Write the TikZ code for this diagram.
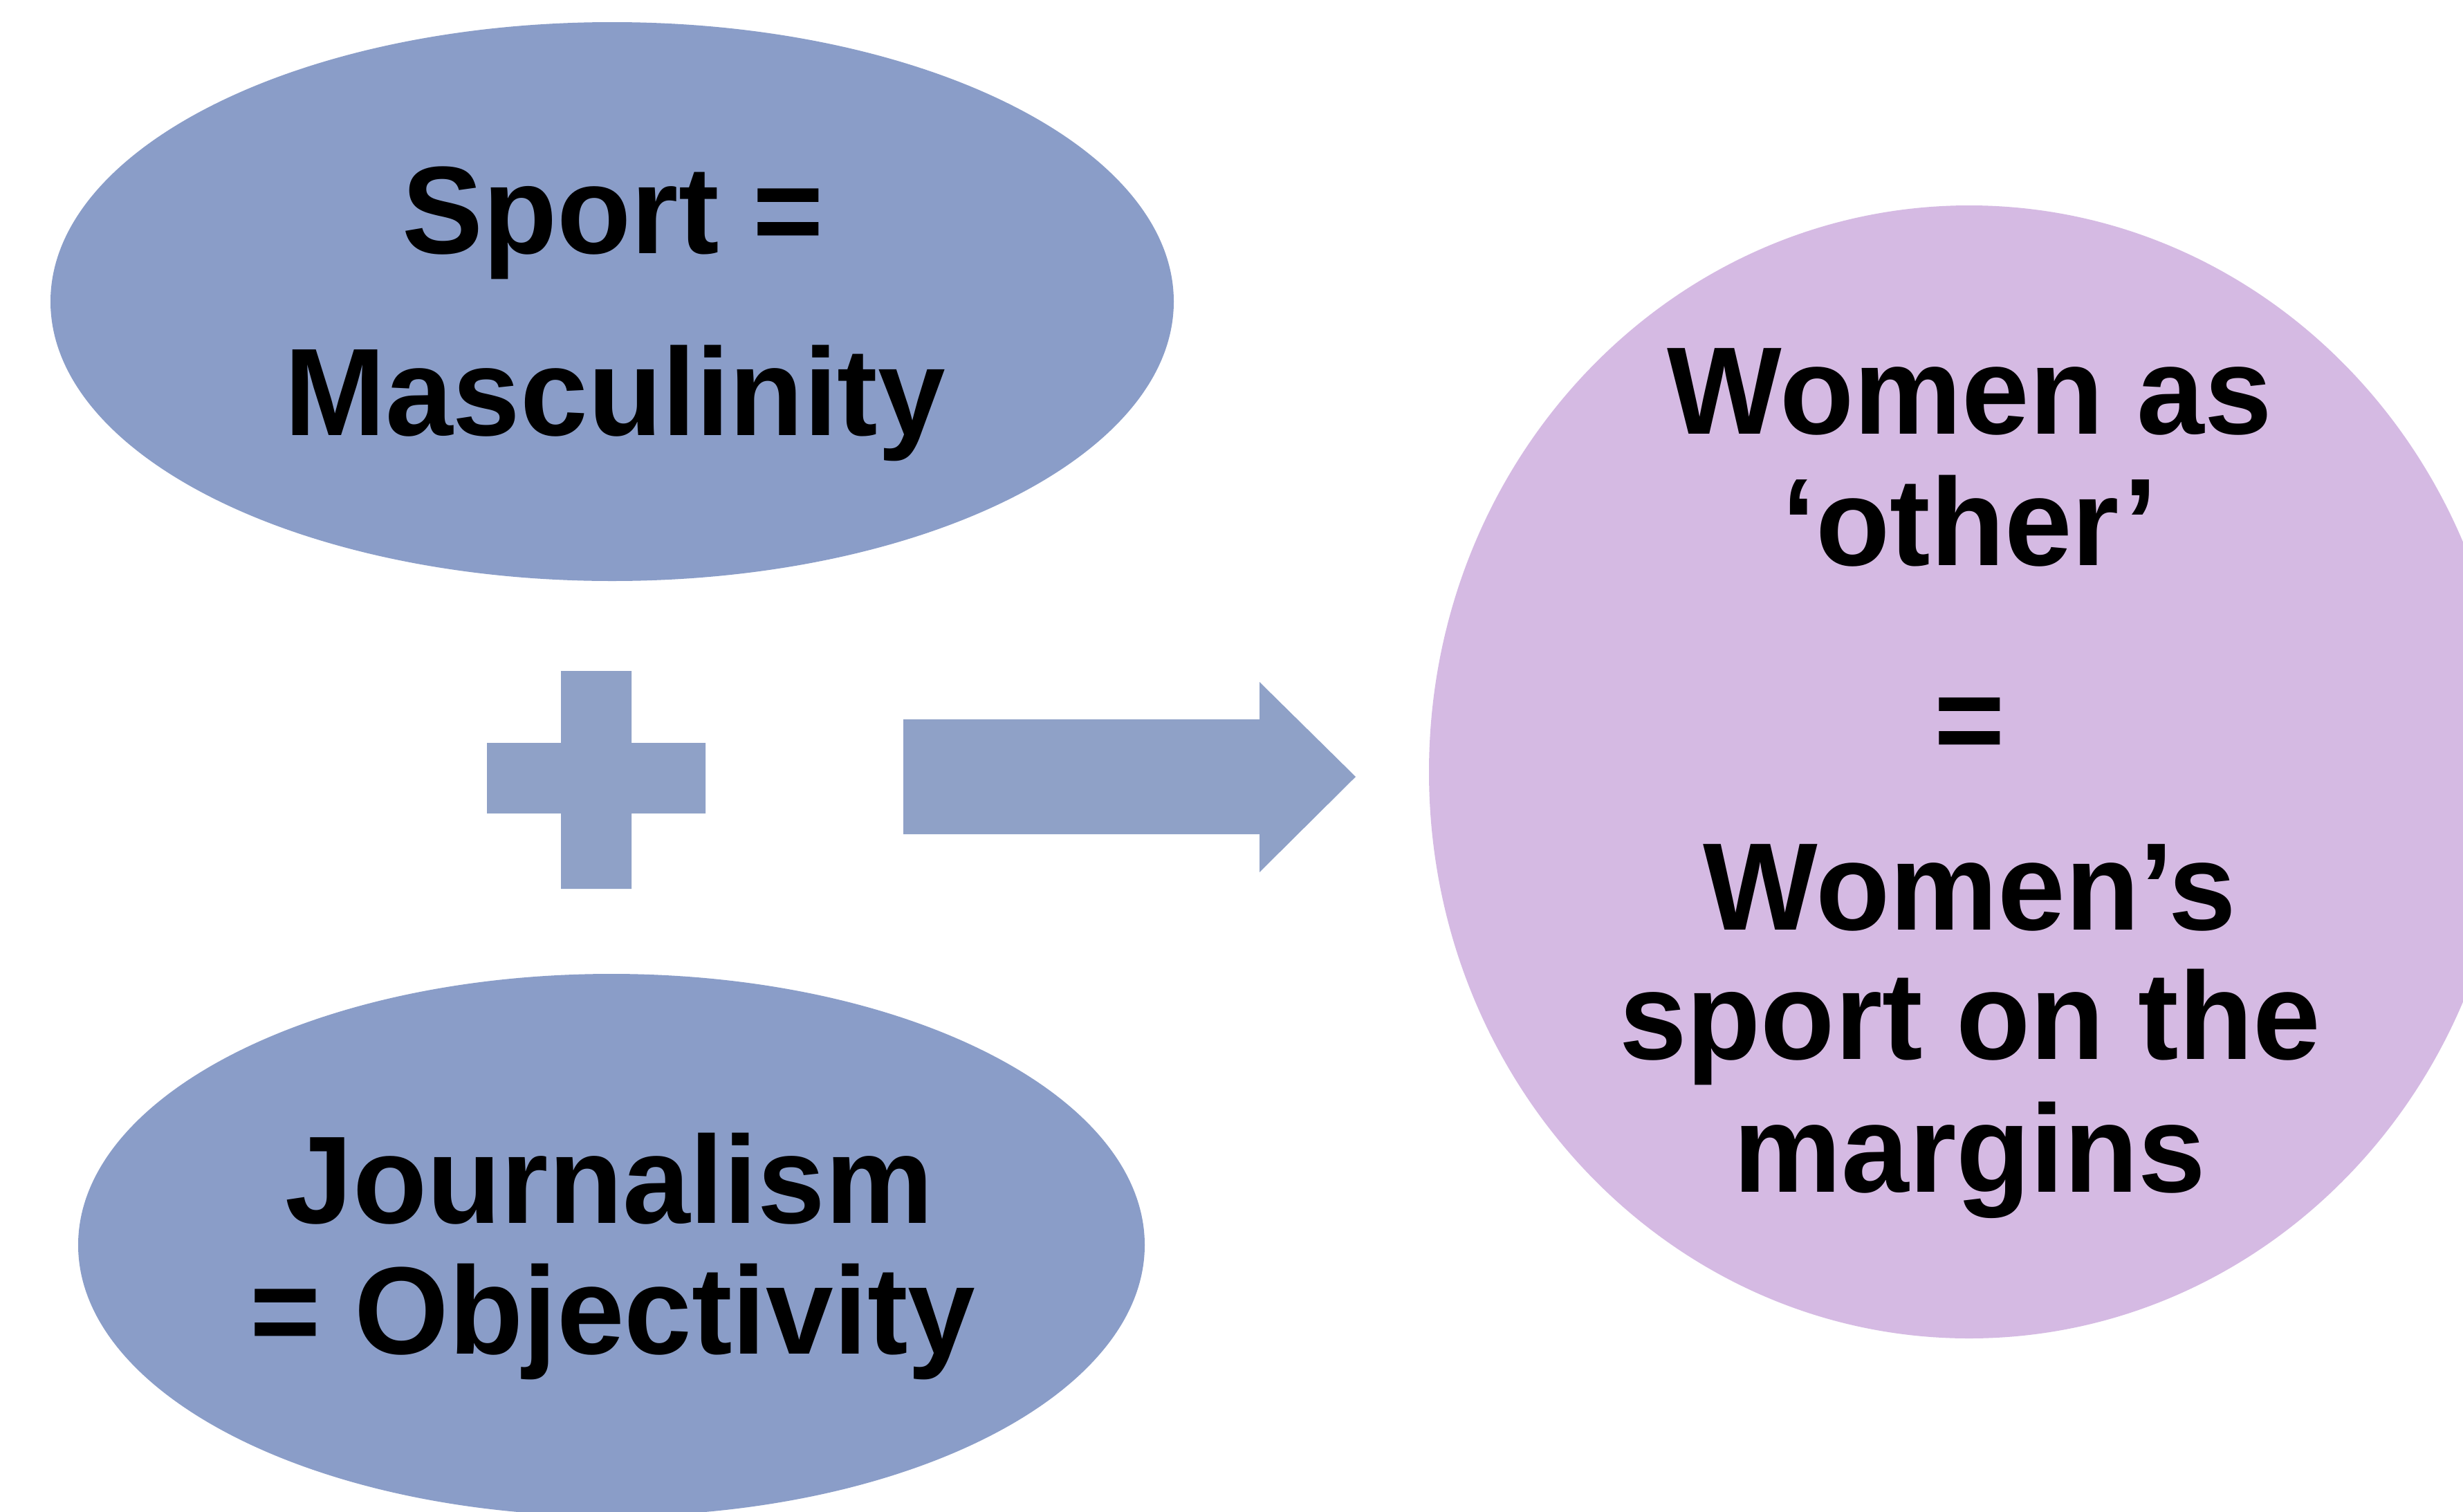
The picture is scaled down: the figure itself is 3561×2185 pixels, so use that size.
\documentclass[tikz,border=0pt]{standalone}
\usepackage{fontspec}
\setmainfont{Liberation Sans}[FakeStretch=0.975]
\usetikzlibrary{shapes.geometric}
\definecolor{blueshape}{RGB}{138,157,200}
\definecolor{arrowblue}{RGB}{143,161,199}
\definecolor{lilac}{RGB}{213,186,227}
\begin{document}
\begin{tikzpicture}[x=1pt,y=-1pt,
  txt/.style={anchor=base, inner sep=0pt, font=\fontsize{180}{200}\selectfont\bfseries},
  oval/.style={ellipse, inner sep=0pt, draw=none}]
\useasboundingbox (0,0) rectangle (3561,2185);
\clip (0,0) rectangle (3561,2185);
\fill[white] (0,0) rectangle (3561,2185);
% shapes
\node[oval, fill=blueshape, minimum width=1624pt, minimum height=808pt] (sport) at (885,436) {};
\node[oval, fill=blueshape, minimum width=1542pt, minimum height=784pt] (journ) at (884,1800) {};
\node[oval, fill=lilac, minimum width=1562pt, minimum height=1638pt] (women) at (2847,1116) {};
% plus sign
\fill[arrowblue] (811,970) -- (913,970) -- (913,1074) -- (1020,1074) -- (1020,1176) -- (913,1176) -- (913,1285) -- (811,1285) -- (811,1176) -- (704,1176) -- (704,1074) -- (811,1074) -- cycle;
% block arrow
\fill[arrowblue] (1306,1040) -- (1821,1040) -- (1821,986) -- (1960,1123) -- (1821,1261) -- (1821,1206) -- (1306,1206) -- cycle;
% texts
\node[txt] (t1) at (886,366) {Sport =};
\node[txt] (t2) at (889,629) {Masculinity};
\node[txt] (t3) at (881,1768) {Journalism};
\node[txt] (t4) at (886,1957) {= Objectivity};
\node[txt] (t5) at (2848,627) {Women as};
\node[txt] (t6) at (2848,817) {\textquoteleft other\textquoteright};
\node[txt] (t7) at (2848,1102) {=};
\node[txt] (t8) at (2848,1344) {Women\textquoteright s};
\node[txt] (t9) at (2848,1531) {sport on the};
\node[txt] (t10) at (2848,1723) {margins};
\end{tikzpicture}
\end{document}
